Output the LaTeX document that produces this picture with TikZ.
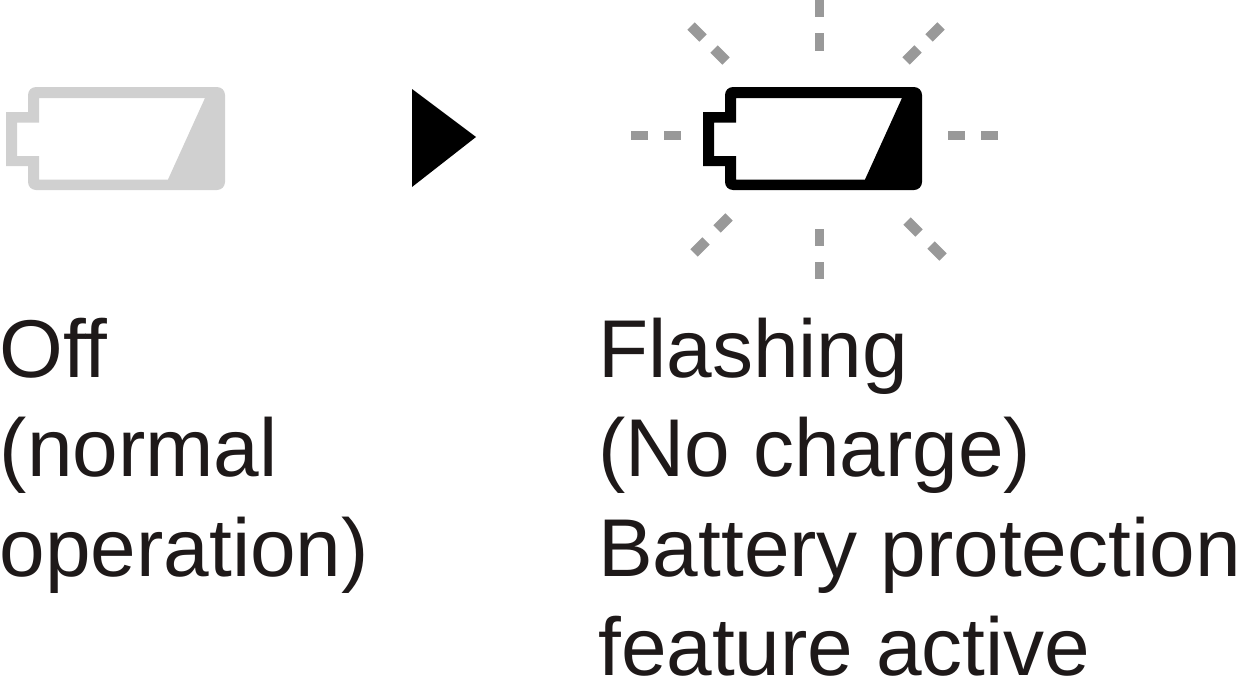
\documentclass[tikz,border=0pt]{standalone}
\usepackage{fontspec}
\setmainfont{Liberation Sans}
\usepackage{xcolor}
\definecolor{offgray}{RGB}{208, 208, 208}
\definecolor{raygray}{RGB}{153, 153, 153}
\definecolor{inkblack}{RGB}{30, 25, 25}
\tikzstyle{ray} = [line width=9pt,color=raygray]
\tikzstyle{diagray} = [line width=10.5pt,color=raygray]
\tikzstyle{caption} = [anchor=north west, inner sep=0pt, align=left, text=inkblack, font=\fontsize{82}{99.3}\selectfont]
\newcommand{\batterypath}{
    [rounded corners=8pt] (28,112) -- (28,87) -- (225,87) -- (225,190) -- (28,190) [sharp corners] -- (28,166) -- (6,166) -- (6,112) -- cycle
    (39,98) -- (205,98) -- (168,179.5) -- (39,179.5) -- (39,156) -- (17,156) -- (17,122.5) -- (39,122.5) -- cycle
}

\begin{document}
\begin{tikzpicture}[x=1pt, y=-1pt]
    \useasboundingbox (0,0) rectangle (1239,680);

    % Batteries
    \fill[offgray, even odd rule] \batterypath;
    \fill[black, even odd rule, shift={(697,0)}] \batterypath;

    % Triangle between them
    \fill[black] (412,89) -- (476,137) -- (412,187) -- cycle;

    % Rays
    \draw[ray] (819.5,0) -- (819.5,17);
    \draw[ray] (819.5,33) -- (819.5,51);
    \draw[ray] (819.5,229) -- (819.5,246);
    \draw[ray] (819.5,262) -- (819.5,279);
    \draw[ray] (631,135.5) -- (648,135.5);
    \draw[ray] (664,135.5) -- (681,135.5);
    \draw[ray] (948,135.5) -- (965,135.5);
    \draw[ray] (981,135.5) -- (998,135.5);
    \draw[diagray] (691,26) -- (703,38);
    \draw[diagray] (714,49) -- (726,61);
    \draw[diagray] (941,26) -- (929,38);
    \draw[diagray] (918,49) -- (906,61);
    \draw[diagray] (729,217) -- (717,229);
    \draw[diagray] (706,241) -- (694,253);
    \draw[diagray] (907,221) -- (919,233);
    \draw[diagray] (931,245) -- (943,257);

    % Labels
    \node[caption] (offlabel) at (-0.5,318) {Off\\(normal\\operation)};
    \node[caption] (flashlabel) at (598,318) {Flashing\\(No charge)\\Battery protection\\feature active};
\end{tikzpicture}
\end{document}
